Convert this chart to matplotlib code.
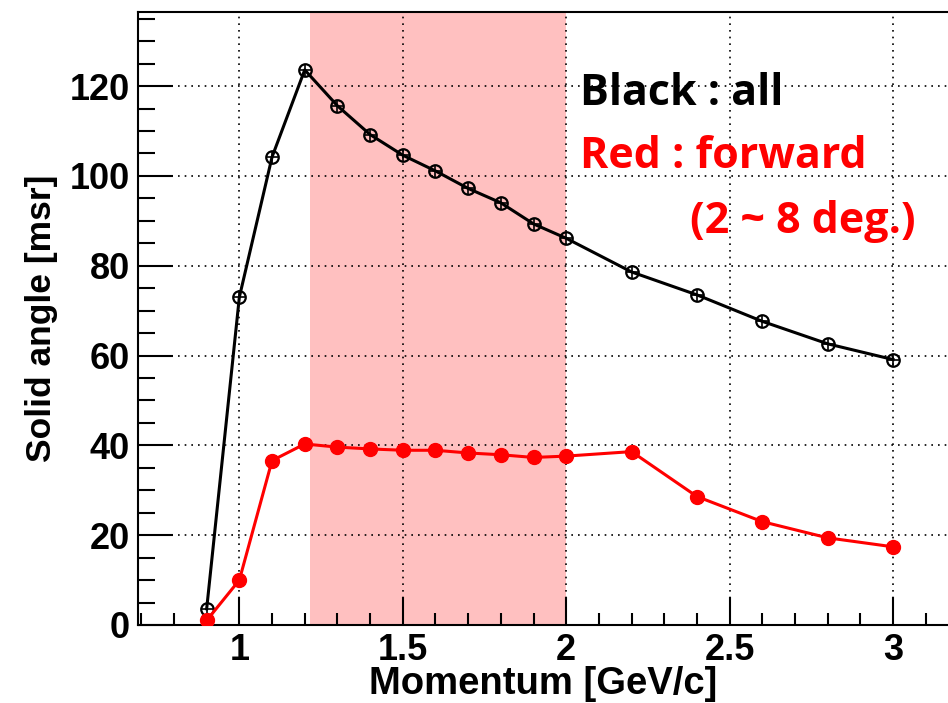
import numpy as np
import matplotlib.pyplot as plt

plt.rcParams['font.family'] = ['Liberation Sans', 'DejaVu Sans']

# momentum points [GeV/c]
mom = [0.9, 1.0, 1.1, 1.2, 1.3, 1.4, 1.5, 1.6, 1.7, 1.8, 1.9, 2.0, 2.2, 2.4, 2.6, 2.8, 3.0]
# solid angle [msr], all / forward (2-8 deg)
sa_all = [3.6, 73.0, 104.2, 123.6, 115.6, 109.2, 104.6, 101.1, 97.2, 94.0, 89.3, 86.1, 78.6, 73.5, 67.6, 62.6, 59.1]
sa_fwd = [1.0, 10.0, 36.6, 40.3, 39.6, 39.2, 38.9, 38.9, 38.3, 37.9, 37.3, 37.6, 38.6, 28.6, 23.0, 19.4, 17.4]

band = (1.217, 2.0)

fig = plt.figure(figsize=(9.48, 7.03), dpi=100)
ax = fig.add_axes([0.1456, 0.111, 0.8544, 0.872])

ax.axvspan(band[0], band[1], color='#ffc0c0', lw=0, zorder=0)

ax.plot(mom, sa_all, color='black', lw=2.2, marker='o', ms=9, mfc='none', mec='black', mew=1.6, zorder=3)
ax.plot(mom, sa_all, ls='none', marker='+', ms=8, mec='black', mew=1.2, zorder=3)
ax.plot(mom, sa_fwd, color='#ff0000', lw=2.2, marker='o', ms=10, mfc='#ff0000', mec='#ff0000', zorder=3)

ax.set_xlim(0.69, 3.168)
ax.set_ylim(0, 136.5)
ax.set_xticks([1, 1.5, 2, 2.5, 3])
ax.set_xticklabels(['1', '1.5', '2', '2.5', '3'])
ax.set_xticks(np.arange(0.7, 3.2, 0.1), minor=True)
ax.set_yticks(range(0, 121, 20))
ax.set_yticks(range(0, 136, 5), minor=True)

ax.grid(True, which='major', color='black', ls=(0, (1, 3)), lw=1.2, zorder=1)
ax.set_axisbelow(False)

ax.tick_params(axis='both', which='major', direction='in', labelsize=26, width=1.5)
ax.tick_params(axis='x', which='major', length=20, pad=6)
ax.tick_params(axis='y', which='major', length=25, pad=6)
ax.tick_params(axis='x', which='minor', direction='in', length=9, width=1.5)
ax.tick_params(axis='y', which='minor', direction='in', length=12, width=1.5)
for lab in ax.get_xticklabels() + ax.get_yticklabels():
    lab.set_fontweight('bold')

ax.spines['right'].set_visible(False)
for s in ['left', 'bottom', 'top']:
    ax.spines[s].set_linewidth(1.5)

ax.set_xlabel('Momentum [GeV/c]', fontsize=27.5, fontweight='bold', labelpad=-2)
ax.set_ylabel('Solid angle [msr]', fontsize=25.5, fontweight='bold', labelpad=8)

ax.text(2.043, 115.8, 'Black : all', color='black', fontsize=31, fontweight='bold',
        family='Open Sans', va='baseline', zorder=4)
ax.text(2.043, 101.8, 'Red : forward', color='#ff0000', fontsize=31, fontweight='bold',
        family='Open Sans', va='baseline', zorder=4)
ax.text(2.379, 87.3, '(2 ~ 8 deg.)', color='#ff0000', fontsize=31, fontweight='bold',
        family='Open Sans', va='baseline', zorder=4)

fig.savefig('out.png', dpi=100)
